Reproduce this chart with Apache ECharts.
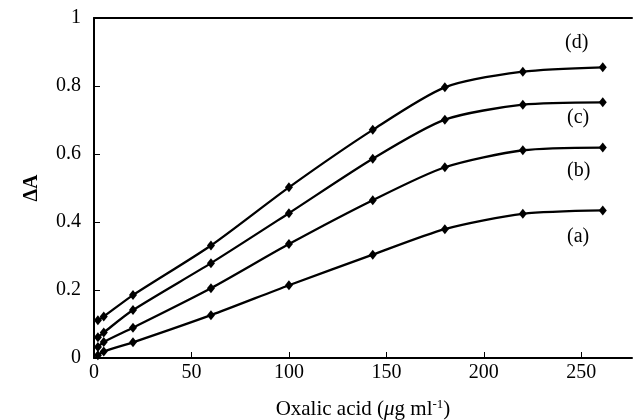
<!DOCTYPE html>
<html>
<head>
<meta charset="utf-8">
<script src="https://cdn.jsdelivr.net/npm/echarts@6/dist/echarts.min.js"></script>
<style>
  html, body { margin: 0; padding: 0; background: #fff; }
  #chart { width: 635px; height: 420px; }
</style>
</head>
<body>
<div id="chart"></div>
<script>
// oxalic acid concentration (ug/ml)
var conc = [2, 5, 20, 60, 100, 143, 180, 220, 261];
// delta A for each curve
var curveA = [0.008, 0.019, 0.046, 0.126, 0.214, 0.304, 0.379, 0.424, 0.434];
var curveB = [0.032, 0.047, 0.089, 0.205, 0.335, 0.464, 0.561, 0.611, 0.619];
var curveC = [0.061, 0.075, 0.141, 0.279, 0.426, 0.586, 0.701, 0.745, 0.752];
var curveD = [0.111, 0.122, 0.185, 0.331, 0.502, 0.671, 0.796, 0.842, 0.855];
var curveNames = ['(a)', '(b)', '(c)', '(d)'];
var yTicks = [0, 0.2, 0.4, 0.6, 0.8, 1];

var font = '"Liberation Serif", "DejaVu Serif", serif';

function pairs(ys) {
    return conc.map(function (x, i) { return [x, ys[i]]; });
}

function makeSeries(name, ys) {
    return {
        name: name,
        type: 'line',
        data: pairs(ys),
        smooth: 0.25,
        symbol: 'diamond',
        symbolSize: [8, 10],
        lineStyle: { color: '#000', width: 2.3 },
        itemStyle: { color: '#000' },
        animation: false
    };
}

var chart = echarts.init(document.getElementById('chart'));
var option = {
    backgroundColor: '#fff',
    grid: { left: 94, right: 3, top: 18, bottom: 62, outerBoundsMode: 'none', containLabel: false },
    xAxis: [{
        type: 'value',
        min: 0, max: 276, interval: 50,
        name: '{a|Oxalic acid (}{i|\u03bc}{a|g ml}{s|-1}{a|)}',
        nameLocation: 'middle',
        nameGap: 40,
        nameTextStyle: {
            rich: {
                a: { fontFamily: font, fontSize: 21, color: '#000' },
                i: { fontFamily: font, fontSize: 21, fontStyle: 'italic', color: '#000' },
                s: { fontFamily: font, fontSize: 13, color: '#000', padding: [0, 0, 10, 0] }
            }
        },
        axisLine: { lineStyle: { color: '#000', width: 2 } },
        axisTick: { inside: true, length: 6, lineStyle: { color: '#000', width: 1 } },
        axisLabel: { fontFamily: font, fontSize: 20, color: '#000', margin: 5, showMaxLabel: false },
        splitLine: { show: false }
    }, {
        type: 'value',
        position: 'top',
        min: 0, max: 276,
        axisLine: { show: true, lineStyle: { color: '#000', width: 2 } },
        axisTick: { show: false },
        axisLabel: { show: false },
        splitLine: { show: false }
    }],
    yAxis: {
        type: 'value',
        min: yTicks[0], max: yTicks[yTicks.length - 1], interval: 0.2,
        name: '\u0394A',
        nameLocation: 'middle',
        nameGap: 52,
        nameRotate: 90,
        nameTextStyle: { fontFamily: font, fontSize: 20, fontWeight: 'bold', color: '#000' },
        axisLine: { show: true, lineStyle: { color: '#000', width: 2 } },
        axisTick: { show: true, inside: true, length: 6, lineStyle: { color: '#000', width: 1 } },
        axisLabel: { fontFamily: font, fontSize: 20, color: '#000', margin: 13 },
        splitLine: { show: false }
    },
    series: [
        makeSeries(curveNames[0], curveA),
        makeSeries(curveNames[1], curveB),
        makeSeries(curveNames[2], curveC),
        makeSeries(curveNames[3], curveD)
    ],
    graphic: [
        { type: 'text', left: 565, top: 33, style: { text: curveNames[3], font: '20px ' + font, fill: '#000' } },
        { type: 'text', left: 567, top: 108, style: { text: curveNames[2], font: '20px ' + font, fill: '#000' } },
        { type: 'text', left: 567, top: 161, style: { text: curveNames[1], font: '20px ' + font, fill: '#000' } },
        { type: 'text', left: 567, top: 227, style: { text: curveNames[0], font: '20px ' + font, fill: '#000' } }
    ]
};
chart.setOption(option);
</script>
</body>
</html>
